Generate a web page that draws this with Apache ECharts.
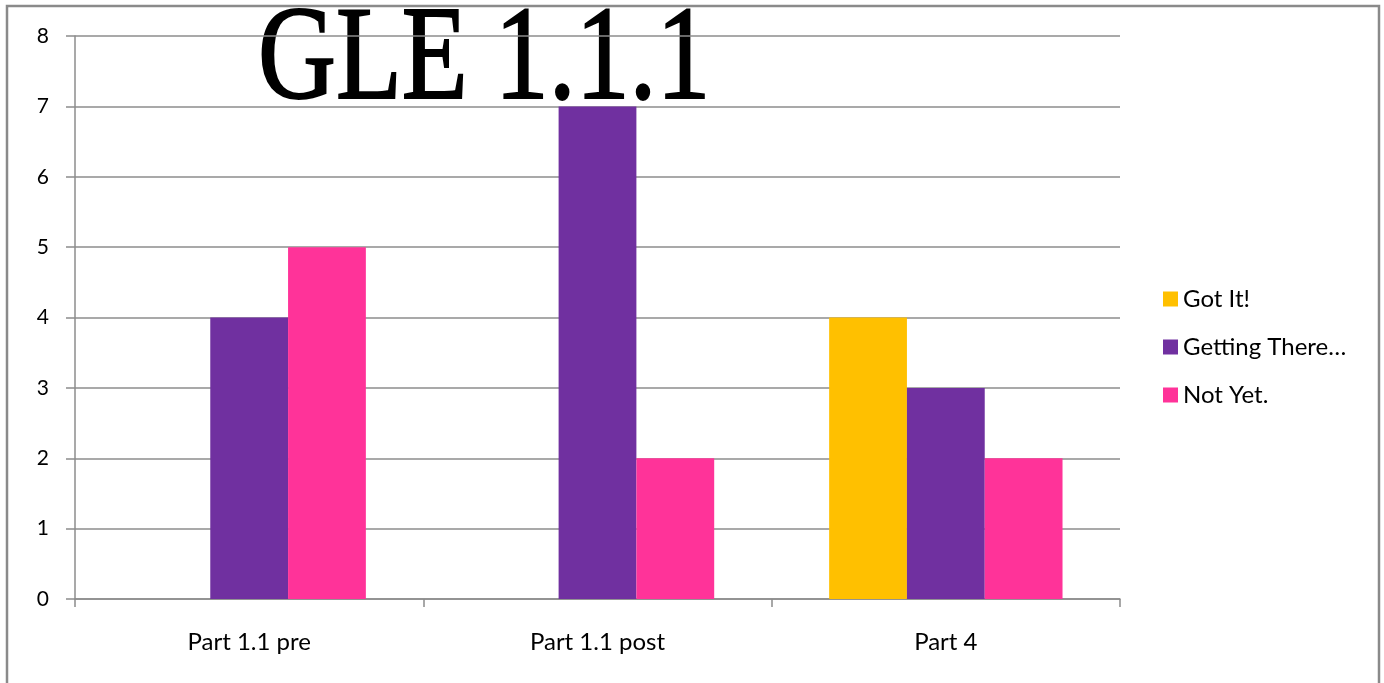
<!DOCTYPE html>
<html>
<head>
<meta charset="utf-8">
<style>
  html, body { margin: 0; padding: 0; background: #fff; }
  #chart { width: 1384px; height: 683px; }
</style>
<script src="https://cdn.jsdelivr.net/npm/echarts@6/dist/echarts.min.js"></script>
</head>
<body>
<div id="chart"></div>
<script>
// Assessment results per part
const categories = ['Part 1.1 pre', 'Part 1.1 post', 'Part 4'];
const seriesNames = ['Got It!', 'Getting There…', 'Not Yet.'];
const gotIt = [0, 0, 4];
const gettingThere = [4, 7, 3];
const notYet = [5, 2, 2];
const yTicks = [0, 1, 2, 3, 4, 5, 6, 7, 8];

const colors = ['#FFC000', '#7030A0', '#FF3399'];
const gridColor = '#8c8c8c';
const labelFont = 'Lato, "Open Sans", sans-serif';

const chart = echarts.init(document.getElementById('chart'), null, { renderer: 'canvas' });

const values = [gotIt, gettingThere, notYet];

chart.setOption({
  animation: false,
  backgroundColor: '#fff',
  color: colors,
  grid: { left: 75, right: 264, top: 36, bottom: 84, containLabel: false },
  legend: {
    orient: 'vertical',
    left: 1158,
    top: 282,
    itemWidth: 15,
    itemHeight: 15,
    itemGap: 24,
    icon: 'rect',
    textStyle: { fontSize: 24, lineHeight: 24, color: '#000', fontFamily: labelFont, padding: [0, 0, 0, 0] },
    data: seriesNames
  },
  xAxis: {
    type: 'category',
    data: categories,
    boundaryGap: true,
    axisLine: { lineStyle: { color: gridColor, width: 1.5 } },
    axisTick: { show: true, length: 8, lineStyle: { color: gridColor, width: 1.5 } },
    axisLabel: { fontSize: 24, color: '#000', fontFamily: labelFont, margin: 31 }
  },
  yAxis: {
    type: 'value',
    min: yTicks[0],
    max: yTicks[yTicks.length - 1],
    interval: 1,
    axisLine: { show: true, lineStyle: { color: gridColor, width: 1.5 } },
    axisTick: { show: true, length: 9, lineStyle: { color: gridColor, width: 1.5 } },
    splitLine: { show: true, lineStyle: { color: gridColor, width: 1.5 } },
    axisLabel: { fontSize: 21, color: '#000', fontFamily: labelFont, margin: 26 }
  },
  series: seriesNames.map((name, i) => ({
    name: name,
    type: 'bar',
    data: values[i],
    barGap: '0%',
    barCategoryGap: '33%',
    itemStyle: { color: colors[i] },
    z: 5
  })),
  graphic: [
    {
      type: 'rect',
      shape: { x: 7, y: 6, width: 1372, height: 720 },
      style: { fill: 'none', stroke: '#8a8a8a', lineWidth: 2.5 },
      silent: true,
      z: 0
    },
    {
      // heading sits beneath the grid lines
      type: 'text',
      x: 258,
      y: 63,
      scaleX: 0.83,
      scaleY: 1.02,
      style: {
        text: 'GLE 1.1.1',
        fontFamily: '"Liberation Serif", "DejaVu Serif", serif',
        fontSize: 130,
        fill: '#000',
        stroke: '#000',
        lineWidth: 2,
        textAlign: 'left',
        textVerticalAlign: 'middle'
      },
      silent: true,
      z: -1
    }
  ]
});
</script>
</body>
</html>
